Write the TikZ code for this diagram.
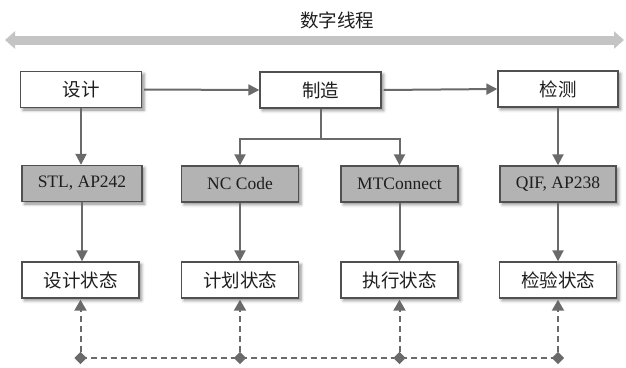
\documentclass[tikz,border=0pt]{standalone}
\usepackage{fontspec}
\setmainfont{Liberation Serif}
\newfontfamily\cjk{Noto Sans CJK SC}
\usetikzlibrary{arrows.meta,shadows.blur,shapes.geometric}

\definecolor{linegray}{HTML}{6A6A6A}
\definecolor{edgegray}{HTML}{505050}
\definecolor{fillgray}{HTML}{B3B3B3}
\definecolor{bandgray}{HTML}{C4C4C4}
\definecolor{inkgray}{HTML}{1E1E1E}

\tikzset{
  boxbase/.style={draw=edgegray, line width=1.4pt, text=inkgray,
    minimum height=36pt, inner sep=0pt,
    blur shadow={shadow xshift=2.5pt, shadow yshift=-2.5pt,
      shadow blur radius=3pt, shadow opacity=45}},
  stagebox/.style={boxbase, fill=white, minimum width=121pt,
    font=\cjk\fontsize{18.5}{22}\selectfont},
  formatbox/.style={boxbase, fill=fillgray, minimum width=117pt,
    font=\fontsize{17.5}{20}\selectfont},
  statebox/.style={boxbase, fill=white, minimum width=117pt,
    font=\cjk\fontsize{18.5}{22}\selectfont},
  flow/.style={draw=linegray, line width=2pt,
    -{Triangle[length=11pt,width=11pt]}},
  link/.style={draw=linegray, line width=2pt, dash pattern=on 6pt off 4pt,
    -{Triangle[length=11pt,width=12pt]}},
  linkbar/.style={draw=linegray, line width=2pt, dash pattern=on 6pt off 4pt},
  joint/.style={diamond, fill=linegray, inner sep=0pt,
    minimum width=12.5pt, minimum height=12.5pt},
}

\begin{document}
\begin{tikzpicture}[x=1pt,y=-1pt]
\useasboundingbox (0,0) rectangle (626,367);

% digital thread band
\node[font=\cjk\fontsize{18.5}{22}\selectfont, text=inkgray] (title) at (337,20) {数字线程};
\coordinate (bandL) at (5,40);
\coordinate (bandR) at (624,40);
\draw[bandgray, line width=9pt,
  {Triangle[length=10pt,width=17pt]}-{Triangle[length=10pt,width=17pt]}]
  (bandL) -- (bandR);

% lifecycle stages
\node[stagebox] (design) at (81,89.5) {设计};
\node[stagebox] (mfg)    at (320.5,90) {制造};
\node[stagebox, minimum width=120pt] (insp) at (558,89) {检测};

% data formats
\node[formatbox, minimum width=120pt] (stl) at (82,183.5) {STL, AP242};
\node[formatbox] (nc)  at (240,184) {NC Code};
\node[formatbox] (mtc) at (399.5,184) {MTConnect};
\node[formatbox, minimum width=116pt] (qif) at (558,184) {QIF, AP238};

% states
\node[statebox] (sdes)  at (80.5,280) {设计状态};
\node[statebox] (splan) at (240,280) {计划状态};
\node[statebox] (sexec) at (399.5,280) {执行状态};
\node[statebox] (sinsp) at (558,280) {检验状态};

% stage to stage
\draw[flow] ([xshift=2pt]design.east) -- (mfg.west);
\draw[flow] ([xshift=2pt]mfg.east) -- (insp.west);

% stage to format
\draw[flow] (design.south) -- (design.south |- stl.north);
\coordinate (split) at ([yshift=-30pt]mfg.south);
\draw[draw=linegray, line width=2pt] (mfg.south) -- (split);
\draw[flow] (split) -| (nc.north);
\draw[flow] (split) -| (mtc.north);
\draw[flow] (insp.south) -- (qif.north);

% format to state
\draw[flow] (stl.south) -- (stl.south |- sdes.north);
\draw[flow] (nc.south) -- (splan.north);
\draw[flow] (mtc.south) -- (sexec.north);
\draw[flow] (qif.south) -- (sinsp.north);

% shared state links
\draw[linkbar] (sdes.south |- 0,358) -- (sinsp.south |- 0,358);
\node[joint] (d1) at (sdes.south |- 0,358) {};
\node[joint] (d2) at (splan.south |- 0,358) {};
\node[joint] (d3) at (sexec.south |- 0,358) {};
\node[joint] (d4) at (sinsp.south |- 0,358) {};
\draw[link] (d1.north) -- ([yshift=-1pt]sdes.south);
\draw[link] (d2.north) -- ([yshift=-1pt]splan.south);
\draw[link] (d3.north) -- ([yshift=-1pt]sexec.south);
\draw[link] (d4.north) -- ([yshift=-1pt]sinsp.south);
\end{tikzpicture}
\end{document}
